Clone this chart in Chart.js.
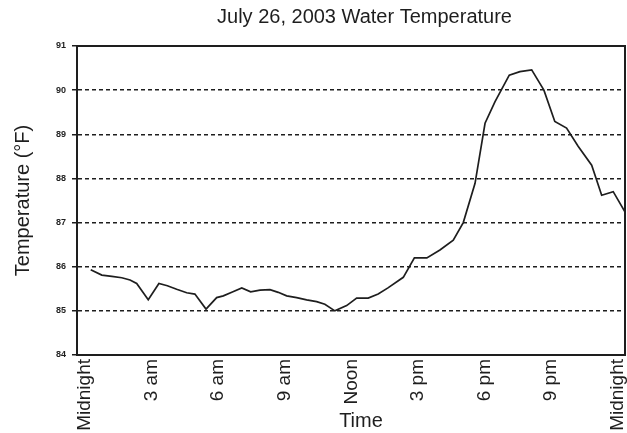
<!DOCTYPE html>
<html><head><meta charset="utf-8">
<script src="https://cdn.jsdelivr.net/npm/chart.js@4"></script>
<style>html,body{margin:0;padding:0;background:#fff}#wrap{width:627px;height:433px}</style>
</head><body><div id="wrap"><canvas id="c" width="627" height="433"></canvas></div>
<script>
const chartTitle = 'July 26, 2003 Water Temperature';
const xTitle = 'Time';
const yTitle = 'Temperature (°F)';

// time of each reading (hours after midnight) and water temperature (°F)
const hours = [0.00, 0.50, 0.95, 1.40, 1.77, 2.07, 2.59, 3.07, 3.45, 3.87, 4.32, 4.69, 5.19, 5.67, 5.97,
  6.35, 6.80, 7.20, 7.62, 8.07, 8.44, 8.82, 9.27, 9.72, 10.17, 10.54, 10.99, 11.52, 11.97, 12.49, 12.94,
  13.38, 14.07, 14.57, 15.13, 15.72, 16.32, 16.77, 17.30, 17.75, 18.20, 18.84, 19.32, 19.85, 20.40,
  20.89, 21.42, 21.94, 22.55, 23.00, 23.52, 24.04];
const temps = [85.93, 85.81, 85.78, 85.75, 85.70, 85.62, 85.25, 85.62, 85.57, 85.49, 85.41, 85.38, 85.04, 85.30, 85.34,
  85.42, 85.52, 85.43, 85.47, 85.48, 85.42, 85.34, 85.30, 85.25, 85.21, 85.15, 85.00, 85.12, 85.29, 85.29, 85.38,
  85.52, 85.76, 86.20, 86.20, 86.38, 86.60, 87.00, 87.89, 89.25, 89.74, 90.34, 90.42, 90.46, 90.00,
  89.29, 89.14, 88.73, 88.30, 87.62, 87.70, 87.25];

const tickHours = [0, 3, 6, 9, 12, 15, 18, 21, 24];
const tickLabels = ['Midnight', '3 am', '6 am', '9 am', 'Noon', '3 pm', '6 pm', '9 pm', 'Midnight'];
const yMin = 84, yMax = 91, yStep = 1;

const points = hours.map((h, i) => ({x: h, y: temps[i]}));
const ink = '#1e1e1e';

Chart.defaults.font.family = "'Liberation Sans', Arial, sans-serif";

const frame = {
  id: 'frame',
  afterDatasetsDraw(chart) {
    const {ctx, chartArea: a} = chart;
    ctx.save();
    ctx.strokeStyle = ink; ctx.lineWidth = 2; ctx.setLineDash([]);
    ctx.strokeRect(a.left, a.top, a.right - a.left, a.bottom - a.top);
    ctx.restore();
  }
};
const titleShift = {
  id: 'titleShift',
  afterLayout(chart) {
    if (chart.titleBlock) chart.titleBlock.left = 104;
    const s = chart.scales.x;
    if (s && !s._shifted) {
      const orig = s.drawTitle.bind(s);
      s.drawTitle = function () { const c = this.ctx; c.save(); c.translate(10, 0); orig(); c.restore(); };
      s._shifted = true;
    }
  }
};

new Chart(document.getElementById('c'), {
  type: 'line',
  data: {datasets: [{data: points, borderColor: ink, borderWidth: 1.7, pointRadius: 0, tension: 0, fill: false}]},
  options: {
    responsive: false, animation: false, devicePixelRatio: 1,
    layout: {padding: {top: 0, right: 2, bottom: 0, left: 0}},
    plugins: {
      legend: {display: false}, tooltip: {enabled: false},
      title: {display: true, text: chartTitle, color: ink,
        font: {size: 20, weight: 'normal', lineHeight: 1.15}, padding: {top: 6, bottom: 17}}
    },
    scales: {
      x: {
        type: 'linear', min: -0.617, max: 24.05,
        afterBuildTicks(s) { s.ticks = tickHours.map(v => ({value: v})); },
        ticks: {
          callback(v) { const i = tickHours.indexOf(v); return i >= 0 ? tickLabels[i] : ''; },
          minRotation: 90, maxRotation: 90, autoSkip: false, labelOffset: -6, padding: 4,
          color: ink, font: {size: 19}
        },
        grid: {display: false, drawTicks: false},
        border: {display: true, color: ink, width: 2},
        title: {display: true, text: xTitle, color: ink, font: {size: 20, lineHeight: 1.15}, padding: {top: 0, bottom: 0}},
        afterFit(s) { s.height = 78; s.paddingLeft = 0; s.paddingRight = 0; }
      },
      y: {
        min: yMin, max: yMax,
        ticks: {stepSize: yStep, color: ink, font: {size: 9, weight: 'bold'}, padding: 6},
        grid: {color: ink, lineWidth: 1.5, tickLength: 5, tickColor: ink, tickWidth: 1.5, tickBorderDash: []},
        border: {display: true, color: ink, width: 2, dash: [4, 3]},
        title: {display: true, text: yTitle, color: ink, font: {size: 20, lineHeight: 1.15}, padding: {top: 12, bottom: 0}},
        afterFit(s) { s.width = 77; s.paddingTop = 0; s.paddingBottom = 0; }
      }
    }
  },
  plugins: [frame, titleShift]
});
</script>
</body></html>
